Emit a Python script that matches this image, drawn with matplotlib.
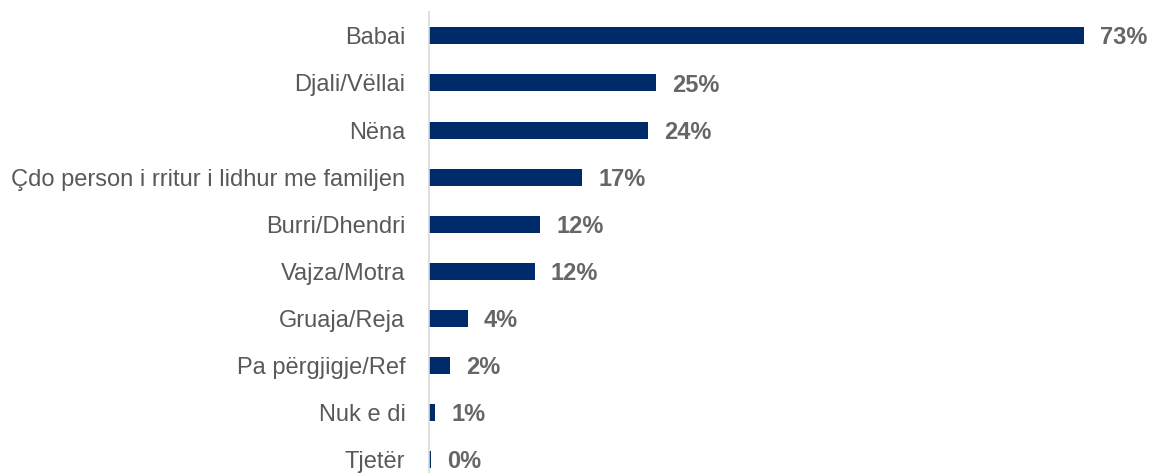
import matplotlib.pyplot as plt

categories = ['Babai', 'Djali/Vëllai', 'Nëna', 'Çdo person i rritur i lidhur me familjen',
              'Burri/Dhendri', 'Vajza/Motra', 'Gruaja/Reja', 'Pa përgjigje/Ref',
              'Nuk e di', 'Tjetër']
values = [73.0, 25.3, 24.4, 17.1, 12.4, 11.8, 4.3, 2.3, 0.7, 0.2]
value_labels = ['73%', '25%', '24%', '17%', '12%', '12%', '4%', '2%', '1%', '0%']

plt.rcParams['font.family'] = ['Liberation Sans', 'DejaVu Sans']

fig = plt.figure(figsize=(11.49, 4.73), dpi=100)
ax = fig.add_axes([0.3734, -0.022, 0.6266, 0.996])

y = range(len(categories))
ax.barh(y, values, height=0.36, color='#002B6A')
ax.set_ylim(len(categories) - 0.5, -0.5)
ax.set_xlim(0, 80.3)

for i, (v, lab) in enumerate(zip(values, value_labels)):
    ax.annotate(lab, (v, i), xytext=(11.5, -1.5), textcoords='offset points',
                va='center', ha='left', fontsize=17, fontweight='bold', color='#666666')

ax.set_yticks(list(y))
ax.set_yticklabels(categories, fontsize=17, color='#595959')
ax.tick_params(axis='y', length=0, pad=17)
ax.set_xticks([])
for s in ['top', 'right', 'bottom']:
    ax.spines[s].set_visible(False)
ax.spines['left'].set_color('#D9D9D9')
ax.spines['left'].set_linewidth(1.2)

fig.savefig('out.png', dpi=100)
